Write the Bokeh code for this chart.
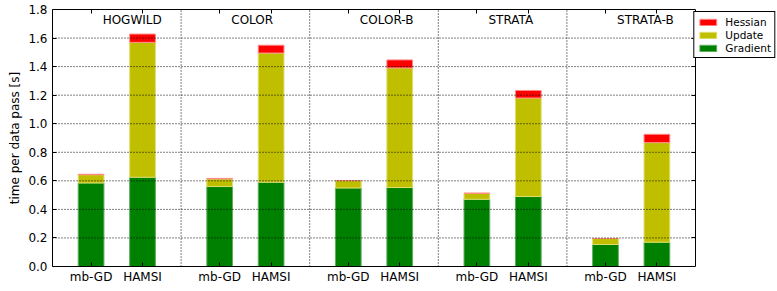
from bokeh.plotting import figure
from bokeh.models import Range1d, FixedTicker, LinearAxis, Legend, LegendItem, ColumnDataSource
from bokeh.core.properties import value
from bokeh.embed import file_html
from bokeh.resources import INLINE

groups = ["HOGWILD", "COLOR", "COLOR-B", "STRATA", "STRATA-B"]
methods = ["mb-GD", "HAMSI"]

gradient_mbgd = [0.585, 0.560, 0.550, 0.471, 0.154]
update_mbgd = [0.058, 0.054, 0.052, 0.042, 0.042]
hessian_mbgd = [0.003, 0.003, 0.0, 0.0, 0.0]

gradient_hamsi = [0.625, 0.590, 0.553, 0.490, 0.170]
update_hamsi = [0.945, 0.905, 0.838, 0.690, 0.698]
hessian_hamsi = [0.058, 0.055, 0.056, 0.053, 0.058]

yticks = [0.0, 0.2, 0.4, 0.6, 0.8, 1.0, 1.2, 1.4, 1.6, 1.8]
series = ["Gradient", "Update", "Hessian"]

FONT = "DejaVu Sans"
FS = "12px"
W, H = 777, 291
LEFT, TOP, BOTTOM = 52, 9, 25
PLOT_W = 643                      # pixel width of the 5 groups
FRAME_W = W - LEFT
NG = len(groups)
XMAX = NG * FRAME_W / PLOT_W      # extra room on the right for the legend

xs, grad, upd, hes, labels = [], [], [], [], {}
for i, g in enumerate(groups):
    for j, (m, off) in enumerate(zip(methods, [0.3, 0.7])):
        x = i + off
        xs.append(x)
        labels[x] = m
        if j == 0:
            grad.append(gradient_mbgd[i]); upd.append(update_mbgd[i]); hes.append(hessian_mbgd[i])
        else:
            grad.append(gradient_hamsi[i]); upd.append(update_hamsi[i]); hes.append(hessian_hamsi[i])

src = ColumnDataSource(dict(x=xs, Gradient=grad, Update=upd, Hessian=hes))

p = figure(width=W, height=H, x_range=Range1d(0, XMAX), y_range=Range1d(0, 1.8),
           output_backend="svg", toolbar_location=None,
           min_border_left=LEFT, min_border_right=0, min_border_top=TOP, min_border_bottom=BOTTOM)
p.outline_line_color = None
p.background_fill_color = "white"
p.xgrid.visible = False
p.ygrid.visible = False

fills = ["#008000", "#bfbf00", "#ff0000"]
edges = ["#5fae5f", "#dede70", "#ff8a8a"]
rs = p.vbar_stack(series, x="x", width=0.2, source=src,
                  color=fills, line_color=edges, line_width=1)

# dotted grid lines drawn over the bars, limited to the plot box
ginner = yticks[1:-1]
p.segment(x0=[0] * len(ginner), x1=[NG] * len(ginner), y0=ginner, y1=ginner,
          line_color="black", line_width=1, line_dash="1 2")
seps = list(range(1, NG))
p.segment(x0=seps, x1=seps, y0=[yticks[0]] * len(seps), y1=[yticks[-1]] * len(seps),
          line_color="black", line_width=1, line_dash="1 2")

# group labels
p.text(x=[i + 0.39 for i in range(NG)], y=[yticks[-1]] * NG, text=groups,
       text_baseline="top", text_align="left", y_offset=3,
       text_font=value(FONT), text_font_size=FS, text_color="black")

# axes
for ax in [p.xaxis[0], p.yaxis[0]]:
    ax.major_tick_in = 4
    ax.major_tick_out = 0
    ax.minor_tick_line_color = None
    ax.axis_line_color = "black"
    ax.major_tick_line_color = "black"
    ax.major_label_text_font = FONT
    ax.major_label_text_font_size = FS
    ax.major_label_text_color = "black"

p.xaxis.bounds = (0, NG)
p.xaxis.ticker = FixedTicker(ticks=xs)
p.xaxis.major_label_overrides = labels
p.xaxis.major_label_standoff = 3

p.yaxis.ticker = FixedTicker(ticks=yticks)
p.yaxis.major_label_overrides = {t: "%.1f" % t for t in yticks}
p.yaxis.major_label_standoff = 5
p.yaxis.axis_label = "time per data pass [s]"
p.yaxis.axis_label_text_font = FONT
p.yaxis.axis_label_text_font_size = FS
p.yaxis.axis_label_text_font_style = "normal"
p.yaxis.axis_label_text_color = "black"
p.yaxis.axis_label_standoff = 3

# mirrored spines with inward ticks
ta = LinearAxis(ticker=FixedTicker(ticks=xs), bounds=(0, NG), major_tick_in=4, major_tick_out=0,
                major_label_overrides={x: "" for x in xs}, major_label_standoff=0,
                minor_tick_line_color=None, axis_line_color="black")
p.add_layout(ta, "above")
ra = LinearAxis(ticker=FixedTicker(ticks=yticks), fixed_location=NG, major_tick_in=0, major_tick_out=4,
                major_label_overrides={t: "" for t in yticks}, major_label_standoff=0,
                minor_tick_line_color=None, axis_line_color="black")
p.add_layout(ra, "left")

legend = Legend(items=[LegendItem(label=series[k], renderers=[rs[k]]) for k in (2, 1, 0)],
                location="top_right", border_line_color="black", border_line_width=1,
                border_line_alpha=1.0,
                padding=3, spacing=0, glyph_width=21, glyph_height=8, label_height=13,
                label_standoff=7, label_text_font=FONT, label_text_font_size="10.5px",
                label_text_color="black", margin=2, background_fill_alpha=1)
p.add_layout(legend)

open("out.html", "w").write(file_html(p, INLINE))
